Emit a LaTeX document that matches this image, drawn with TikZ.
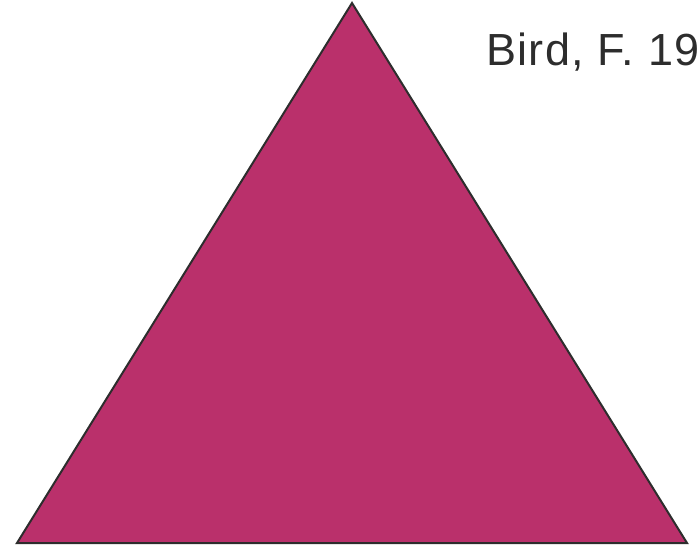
\documentclass[tikz,border=0pt]{standalone}
\usepackage{fontspec}
\setmainfont{Liberation Sans}
\usepackage{xcolor}
\definecolor{triFill}{RGB}{186, 48, 107}
\definecolor{triDark}{RGB}{45, 45, 45}
\usepackage{tikz}
\usetikzlibrary{positioning}

\begin{document}
\begin{tikzpicture}[
    x=1pt, y=-1pt,
    triShape/.style={
        draw=triDark, line width=2pt,
        fill=triFill, line join=miter
    },
    refLabel/.style={
        text=triDark, inner sep=0pt,
        font=\fontsize{45}{54}\selectfont\addfontfeature{LetterSpace=3}
    }
]

    % Frame of the picture
    \useasboundingbox (0, 0) rectangle (698, 546);
    \clip (0, 0) rectangle (698, 546);

    % Corners of the triangle
    \coordinate (apex) at (352, 3);
    \coordinate (baseLeft) at (17, 543);
    \coordinate (baseRight) at (687, 543);

    \draw[triShape] (apex) -- (baseRight) -- (baseLeft) -- cycle;

    % Reference text, cut by the right edge
    \node[refLabel, anchor=base west] (birdRef) at (486, 65) {Bird, F. 19};

\end{tikzpicture}
\end{document}
